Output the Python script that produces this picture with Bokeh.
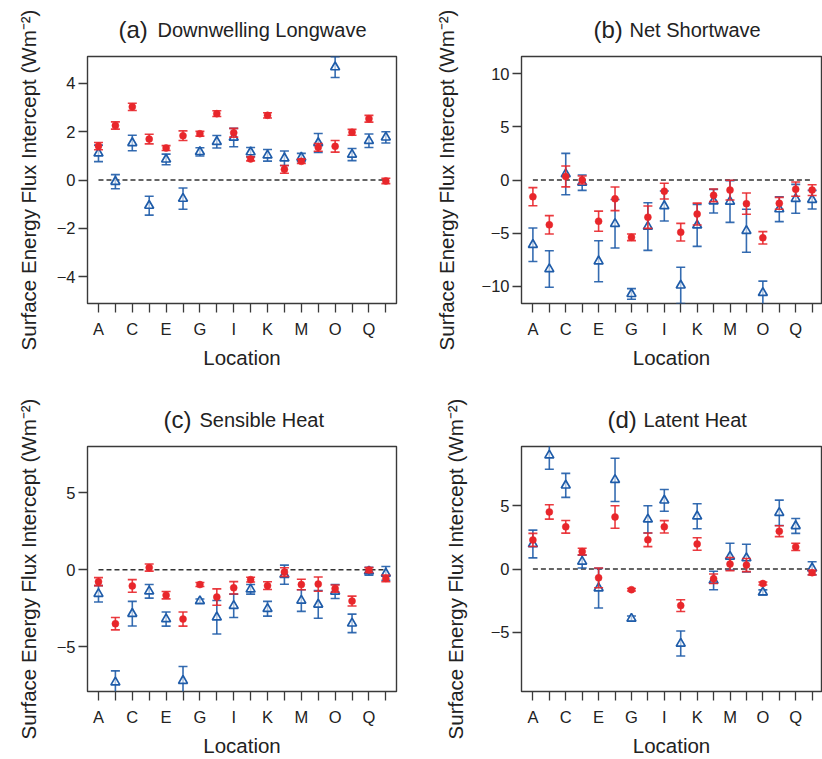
from bokeh.plotting import figure
from bokeh.models import ColumnDataSource, FixedTicker, Range1d, Title
from bokeh.layouts import column, row
from bokeh.embed import file_html
from bokeh.resources import INLINE

locs = list("ABCDEFGHIJKLMNOPQR")

a_red = [1.40, 2.25, 3.02, 1.69, 1.32, 1.83, 1.91, 2.74, 1.95, 0.87, 2.67, 0.44, 0.77, 1.35, 1.39, 1.97, 2.53, -0.04]
a_red_err = [0.15, 0.15, 0.15, 0.20, 0.10, 0.20, 0.10, 0.12, 0.18, 0.08, 0.11, 0.16, 0.09, 0.16, 0.24, 0.12, 0.14, 0.11]
a_blue = [1.10, -0.07, 1.53, -1.06, 0.85, -0.77, 1.16, 1.58, 1.75, 1.15, 1.02, 0.90, 0.93, 1.53, 4.66, 1.05, 1.62, 1.76]
a_blue_err = [0.34, 0.29, 0.32, 0.39, 0.22, 0.44, 0.17, 0.26, 0.38, 0.19, 0.24, 0.30, 0.17, 0.39, 0.43, 0.25, 0.28, 0.23]

b_red = [-1.57, -4.21, 0.33, 0.00, -3.87, -1.77, -5.38, -3.49, -1.05, -4.90, -3.20, -1.44, -0.95, -2.22, -5.43, -2.19, -0.86, -0.95]
b_red_err = [0.85, 0.86, 0.98, 0.38, 0.95, 1.11, 0.31, 1.05, 0.74, 0.83, 1.03, 0.59, 0.93, 1.00, 0.58, 0.56, 0.67, 0.50]
b_blue = [-6.08, -8.36, 0.56, -0.25, -7.63, -4.11, -10.70, -4.37, -2.44, -9.90, -4.26, -1.99, -2.02, -4.77, -10.60, -2.74, -1.77, -1.85]
b_blue_err = [1.57, 1.72, 1.94, 0.72, 1.93, 2.28, 0.50, 2.24, 1.41, 1.70, 1.97, 1.11, 1.96, 2.02, 1.10, 1.17, 1.36, 0.88]

c_red = [-0.77, -3.50, -1.05, 0.14, -1.65, -3.20, -0.96, -1.77, -1.17, -0.64, -1.03, -0.15, -0.96, -0.93, -1.22, -2.03, -0.02, -0.56]
c_red_err = [0.26, 0.40, 0.41, 0.23, 0.24, 0.46, 0.13, 0.53, 0.40, 0.15, 0.25, 0.28, 0.34, 0.46, 0.23, 0.32, 0.16, 0.22]
c_blue = [-1.56, -7.30, -2.85, -1.40, -3.20, -7.20, -2.03, -3.08, -2.34, -1.27, -2.53, -0.32, -2.00, -2.25, -1.41, -3.48, -0.10, -0.24]
c_blue_err = [0.53, 0.74, 0.80, 0.44, 0.46, 0.92, 0.13, 1.09, 0.76, 0.31, 0.48, 0.62, 0.70, 0.90, 0.45, 0.60, 0.26, 0.45]

d_red = [2.30, 4.52, 3.34, 1.38, -0.70, 4.12, -1.64, 2.31, 3.34, -2.90, 1.98, -0.77, 0.39, 0.31, -1.15, 2.99, 1.75, -0.29]
d_red_err = [0.52, 0.57, 0.50, 0.26, 0.78, 0.89, 0.10, 0.54, 0.49, 0.47, 0.50, 0.38, 0.52, 0.52, 0.12, 0.43, 0.29, 0.18]
d_blue = [1.98, 9.00, 6.62, 0.59, -1.52, 7.06, -3.92, 3.93, 5.43, -5.90, 4.18, -0.91, 0.98, 0.86, -1.85, 4.45, 3.41, 0.06]
d_blue_err = [1.10, 1.10, 0.95, 0.51, 1.57, 1.71, 0.20, 1.08, 0.86, 0.99, 0.99, 0.73, 1.06, 1.10, 0.20, 1.00, 0.59, 0.51]

a_yticks = [-4, -2, 0, 2, 4]
b_yticks = [-10, -5, 0, 5, 10]
c_yticks = [-5, 0, 5]
d_yticks = [-5, 0, 5]

RED = "#E8262B"
BLUE = "#1F5CA9"
FONT = "Liberation Sans"
INK = "#222222"
FRAME = "#3a3a3a"


def panel(width, height, mbl, mbr, mbt, mbb, xr, yr, yticks, red, red_err, blue, blue_err,
          tag, name, tag_off, name_off, ylab_standoff):
    p = figure(width=width, height=height, output_backend="svg", toolbar_location=None,
               x_range=Range1d(*xr), y_range=Range1d(*yr),
               min_border_left=mbl, min_border_right=mbr, min_border_top=mbt, min_border_bottom=mbb)
    p.grid.visible = False
    p.outline_line_color = FRAME
    p.outline_line_width = 1.4
    p.background_fill_color = "white"
    p.border_fill_color = "white"

    xs = list(range(len(locs)))
    p.xaxis.ticker = FixedTicker(ticks=xs)
    p.xaxis.major_label_overrides = {i: (locs[i] if i % 2 == 0 else "") for i in xs}
    p.yaxis.ticker = FixedTicker(ticks=yticks)
    p.yaxis.major_label_overrides = {t: str(t).replace("-", "\u2212") for t in yticks}

    for ax in (p.xaxis, p.yaxis):
        ax.axis_line_color = None
        ax.major_tick_line_color = FRAME
        ax.major_tick_line_width = 1.3
        ax.major_tick_out = 9
        ax.major_tick_in = 0
        ax.minor_tick_line_color = None
        ax.major_label_text_font = FONT
        ax.major_label_text_font_size = "16.5px"
        ax.major_label_text_color = INK
        ax.axis_label_text_font = FONT
        ax.axis_label_text_font_size = "20.5px"
        ax.axis_label_text_font_style = "normal"
        ax.axis_label_text_color = INK
    p.xaxis.axis_label = "Location"
    p.xaxis.major_label_standoff = 7
    p.xaxis.axis_label_standoff = 5
    p.yaxis.axis_label = "Surface Energy Flux Intercept (Wm\u207b\u00b2)"
    p.yaxis.major_label_standoff = 3
    p.yaxis.axis_label_standoff = ylab_standoff

    # zero reference line from first to last location
    p.line(x=[xs[0], xs[-1]], y=[0, 0], line_color="#333333", line_width=1.3, line_dash="5 3")

    for vals, errs, color, marker in ((blue, blue_err, BLUE, "triangle"), (red, red_err, RED, "circle")):
        src = ColumnDataSource(dict(
            x=xs, y=vals,
            lo=[v - e for v, e in zip(vals, errs)],
            hi=[v + e for v, e in zip(vals, errs)],
        ))
        p.segment(x0="x", y0="lo", x1="x", y1="hi", source=src, line_color=color, line_width=1.6,
                  line_alpha=0.9)
        p.scatter(x="x", y="hi", source=src, marker="dash", size=9, line_color=color, line_width=1.6,
                  line_alpha=0.9)
        p.scatter(x="x", y="lo", source=src, marker="dash", size=9, line_color=color, line_width=1.6,
                  line_alpha=0.9)
        if marker == "triangle":
            p.scatter(x="x", y="y", source=src, marker="triangle", size=9, line_color=color,
                      line_width=1.7, fill_color="white", fill_alpha=0.6)
        else:
            p.scatter(x="x", y="y", source=src, marker="circle", size=7, line_color=color,
                      fill_color=color, line_width=0.5)

    # panel title: larger tag "(x)" followed by the name on the same baseline
    t_tag = Title(text=tag, align="left", offset=tag_off, standoff=26, vertical_align="middle",
                  text_font=FONT, text_font_size="24px", text_font_style="normal", text_color=INK)
    t_name = Title(text=name, align="left", offset=name_off, standoff=-78, vertical_align="bottom",
                   text_font=FONT, text_font_size="20px", text_font_style="normal", text_color=INK)
    p.add_layout(t_tag, "above")
    p.add_layout(t_name, "above")
    return p


pa = panel(430, 390, 87, 34, 56, 87, (-0.65, 17.63), (-5.1, 5.1), a_yticks,
           a_red, a_red_err, a_blue, a_blue_err, "(a)", "Downwelling Longwave", 31, 70, 14)
pb = panel(392, 390, 91, 1, 56, 87, (-0.694, 17.57), (-11.6, 11.6), b_yticks,
           b_red, b_red_err, b_blue, b_blue_err, "(b)", "Net Shortwave", 72, 108, 21)
pc = panel(430, 369, 87, 34, 56, 66, (-0.65, 17.63), (-7.9, 8.0), c_yticks,
           c_red, c_red_err, c_blue, c_blue_err, "(c)", "Sensible Heat", 76, 112, 14)
pd_ = panel(392, 369, 91, 1, 56, 66, (-0.694, 17.57), (-9.7, 9.7), d_yticks,
            d_red, d_red_err, d_blue, d_blue_err, "(d)", "Latent Heat", 86, 122, 21)

layout = column(row(pa, pb), row(pc, pd_))
open("out.html", "w").write(file_html(layout, INLINE))
